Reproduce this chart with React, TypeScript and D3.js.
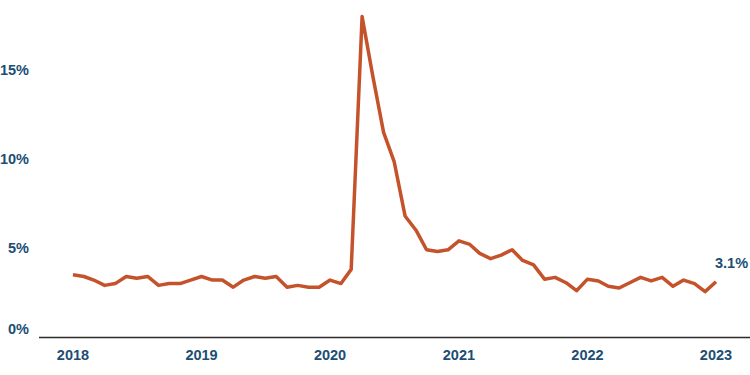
import { line, scaleLinear, scaleUtc, utcMonth } from 'd3'

const startMonth = new Date(Date.UTC(2018, 0, 1))

// monthly rate, Jan 2018 - Jan 2023 (%)
const rates2018 = [3.5, 3.4, 3.2, 2.9, 3.0, 3.4, 3.3, 3.4, 2.9, 3.0, 3.0, 3.2]
const rates2019 = [3.4, 3.2, 3.2, 2.8, 3.2, 3.4, 3.3, 3.4, 2.8, 2.9, 2.8, 2.8]
const rates2020 = [3.2, 3.0, 3.8, 18.0, 14.7, 11.5, 9.85, 6.8, 6.0, 4.9, 4.8, 4.9]
const rates2021 = [5.4, 5.2, 4.7, 4.4, 4.6, 4.9, 4.3, 4.05, 3.25, 3.35, 3.05, 2.6]
const rates2022 = [3.25, 3.15, 2.85, 2.75, 3.05, 3.35, 3.15, 3.35, 2.85, 3.2, 3.0, 2.55]
const rates2023 = [3.1]

const yTicks = [0, 5, 10, 15]
const yearTicks = [2018, 2019, 2020, 2021, 2022, 2023]
const lastLabel = '3.1%'

const values = [...rates2018, ...rates2019, ...rates2020, ...rates2021, ...rates2022, ...rates2023]
const data = values.map((v, i) => ({ date: utcMonth.offset(startMonth, i), value: v }))

const width = 750
const height = 375
const labelColor = '#1c4e73'
const lineColor = '#c4532b'
const font = '"Liberation Sans", Arial, sans-serif'

export default function App() {
    const x = scaleUtc()
        .domain([startMonth, new Date(Date.UTC(2023, 0, 1))])
        .range([73, 716])

    const y = scaleLinear()
        .domain([0, 5])
        .range([337, 248])

    const path = line<any>()
        .x(d => x(d.date))
        .y(d => y(d.value))

    const last = data[data.length - 1]

    return (
        <svg width={width} height={height} style={{ position: 'fixed', top: 0, left: 0, background: '#fff' }}
            fontFamily={font} fontWeight="bold" fontSize={14.5}>
            {yTicks.map(t => (
                <text key={t} x={29} y={t === 0 ? y(t) - 3 : y(t) + 5} textAnchor="end" fill={labelColor}>
                    {t}%
                </text>
            ))}
            <line x1={39} x2={width} y1={y(0) + 0.5} y2={y(0) + 0.5} stroke="#2b2b2b" strokeWidth={1.3} />
            {yearTicks.map(yr => (
                <text key={yr} x={x(new Date(Date.UTC(yr, 0, 1)))} y={360} textAnchor="middle" fill={labelColor}>
                    {yr}
                </text>
            ))}
            <path d={path(data) || ''} fill="none" stroke={lineColor} strokeWidth={3.5} strokeLinejoin="round" />
            <text x={x(last.date) - 1} y={y(last.value) - 14} fill={labelColor}>
                {lastLabel}
            </text>
        </svg>
    )
}
